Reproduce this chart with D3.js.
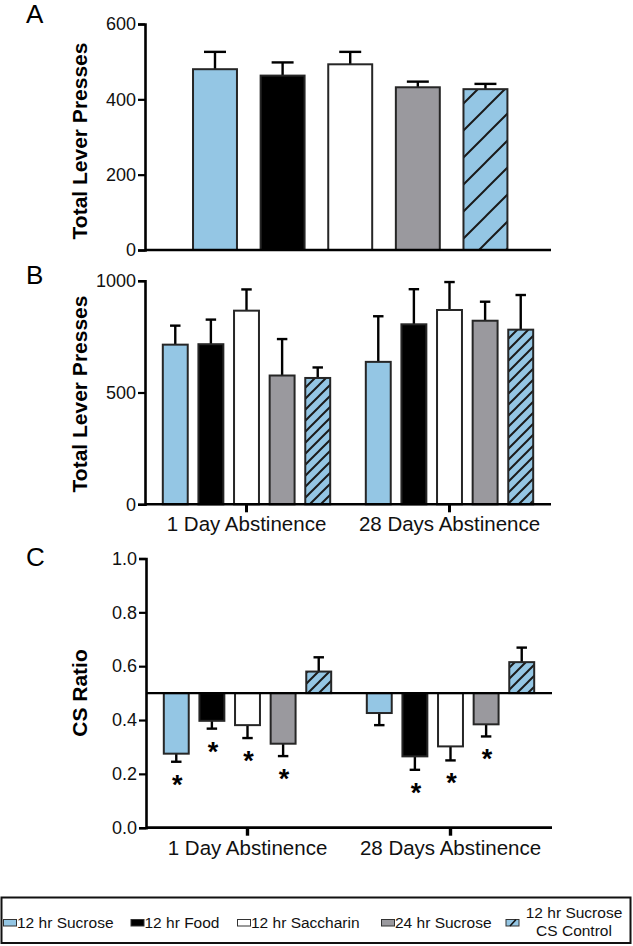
<!DOCTYPE html>
<html>
<head>
<meta charset="utf-8">
<script src="https://cdn.jsdelivr.net/npm/d3@7"></script>
<style>
  html, body { margin: 0; padding: 0; background: #fff; }
  svg { display: block; font-family: "Liberation Sans", Arial, Helvetica, sans-serif; }
</style>
</head>
<body>
<svg id="chart" width="633" height="946"></svg>
<script>
// ---------------- DATA ----------------
const groups = ["12 hr Sucrose", "12 hr Food", "12 hr Saccharin", "24 hr Sucrose", "12 hr Sucrose CS Control"];
const periods = ["1 Day Abstinence", "28 Days Abstinence"];

// Panel A: total lever presses (mean, SEM)
const aMean = [480, 463, 493, 432, 427];
const aSem  = [46, 35, 33, 15, 14];
const aTicks = [0, 200, 400, 600];

// Panel B: total lever presses by abstinence period
const bMean1  = [714, 716, 866, 576, 565];
const bSem1   = [85, 110, 95, 163, 47];
const bMean28 = [637, 805, 869, 821, 781];
const bSem28  = [204, 157, 125, 85, 155];
const bTicks = [0, 500, 1000];

// Panel C: CS ratio
const cMean1  = [0.275, 0.397, 0.381, 0.312, 0.580];
const cSem1   = [0.030, 0.029, 0.048, 0.046, 0.053];
const cMean28 = [0.426, 0.265, 0.302, 0.384, 0.615];
const cSem28  = [0.045, 0.050, 0.052, 0.045, 0.054];
const cSig1   = [true, true, true, true, false];
const cSig28  = [false, true, true, true, false];
const cTicks = [0, 0.2, 0.4, 0.6, 0.8, 1.0];
const cBaseline = 0.5;

const legendLabels = ["12 hr Sucrose", "12 hr Food", "12 hr Saccharin", "24 hr Sucrose", ["12 hr Sucrose", "CS Control"]];

// ---------------- STYLE ----------------
const BLUE = "#94c6e4", GRAY = "#9a999e", STROKE = "#262626";
const fills = [BLUE, "#000000", "#ffffff", GRAY, null]; // null = hatched
const svg = d3.select("#chart");
const defs = svg.append("defs");

function hatch(id, s) {
  const p = defs.append("pattern").attr("id", id).attr("patternUnits", "userSpaceOnUse")
    .attr("width", s).attr("height", s);
  p.append("rect").attr("width", s).attr("height", s).attr("fill", BLUE);
  p.append("path").attr("d", `M${-s/2},${s/2} L${s/2},${-s/2} M0,${s} L${s},0 M${s/2},${s*1.5} L${s*1.5},${s/2}`)
    .attr("stroke", "#1a1a1a").attr("stroke-width", 2);
}
hatch("hatchA", 27);
hatch("hatchB", 11);

const fillFor = (i, hid) => fills[i] === null ? `url(#${hid})` : fills[i];

const X0 = 145, X1 = 551;
const FONT = "'Liberation Sans', Arial, sans-serif";

function yAxis(g, y, ticks, fmt) {
  const ax = d3.axisLeft(y).tickValues(ticks).tickSize(7).tickPadding(2).tickFormat(fmt);
  g.call(ax);
  g.select(".domain").attr("stroke", "#000").attr("stroke-width", 2.6);
  g.selectAll(".tick line").attr("stroke", "#000").attr("stroke-width", 2.2);
  g.selectAll(".tick text").attr("font-size", 18).attr("fill", "#111").attr("font-family", FONT);
}

function yTitle(text, cy) {
  svg.append("text").attr("transform", `translate(87,${cy}) rotate(-90)`)
    .attr("text-anchor", "middle").attr("font-size", 21).attr("font-weight", "bold").text(text);
}

function panelLabel(t, x, y) {
  svg.append("text").attr("x", x).attr("y", y).attr("font-size", 26).text(t);
}

function errBar(g, cx, yFrom, yTo, cap) {
  g.append("line").attr("x1", cx).attr("x2", cx).attr("y1", yFrom).attr("y2", yTo)
    .attr("stroke", "#000").attr("stroke-width", 2.4);
  g.append("line").attr("x1", cx - cap/2).attr("x2", cx + cap/2).attr("y1", yTo).attr("y2", yTo)
    .attr("stroke", "#000").attr("stroke-width", 2.4);
}

// ---------------- PANEL A ----------------
{
  const y = d3.scaleLinear().domain([0, 600]).range([250, 24]);
  const x = d3.scaleBand().domain(groups).range([X0, X1 - 1]).paddingInner(0.35).paddingOuter(0.67).align(0.53);
  const g = svg.append("g");
  groups.forEach((grp, i) => {
    const bx = x(grp), bw = x.bandwidth(), cx = bx + bw/2;
    errBar(g, cx, y(aMean[i]), y(aMean[i] + aSem[i]), bw * 0.5);
    g.append("rect").attr("x", bx).attr("y", y(aMean[i])).attr("width", bw)
      .attr("height", y(0) - y(aMean[i])).attr("fill", fillFor(i, "hatchA"))
      .attr("stroke", STROKE).attr("stroke-width", 2);
  });
  const ya = svg.append("g").attr("transform", `translate(${X0},0)`);
  yAxis(ya, y, aTicks, d3.format("d"));
  svg.append("line").attr("x1", X0).attr("x2", X1).attr("y1", y(0)).attr("y2", y(0))
    .attr("stroke", "#000").attr("stroke-width", 2.6);
  yTitle("Total Lever Presses", 141);
  panelLabel("A", 26, 23);
}

// ---------------- PANEL B ----------------
{
  const y = d3.scaleLinear().domain([0, 1000]).range([504.3, 280.7]);
  const x0 = d3.scaleBand().domain(periods).range([X0, X1]).padding(0);
  const x1 = d3.scaleBand().domain(d3.range(groups.length)).range([0, x0.bandwidth()]).paddingInner(0.3).paddingOuter(0.5);
  const series = [[bMean1, bSem1], [bMean28, bSem28]];
  const g = svg.append("g");
  periods.forEach((p, pi) => {
    const [m, s] = series[pi];
    groups.forEach((grp, i) => {
      const bx = x0(p) + x1(i), bw = x1.bandwidth(), cx = bx + bw/2;
      errBar(g, cx, y(m[i]), y(m[i] + s[i]), bw * 0.42);
      g.append("rect").attr("x", bx).attr("y", y(m[i])).attr("width", bw)
        .attr("height", y(0) - y(m[i])).attr("fill", fillFor(i, "hatchB"))
        .attr("stroke", STROKE).attr("stroke-width", 2);
    });
  });
  const ya = svg.append("g").attr("transform", `translate(${X0},0)`);
  yAxis(ya, y, bTicks, d3.format("d"));
  const xa = svg.append("g").attr("transform", `translate(0,${y(0)})`)
    .call(d3.axisBottom(x0).tickSize(8).tickPadding(4));
  xa.select(".domain").attr("stroke", "#000").attr("stroke-width", 2.6).attr("d", `M${X0},0H${X1}`);
  xa.selectAll(".tick line").attr("stroke", "#000").attr("stroke-width", 3);
  xa.selectAll(".tick text").attr("font-size", 20.5).attr("fill", "#111").attr("font-family", FONT);
  yTitle("Total Lever Presses", 394);
  panelLabel("B", 26, 284);
}

// ---------------- PANEL C ----------------
{
  const y = d3.scaleLinear().domain([0, 1]).range([827.7, 558.5]);
  const x0 = d3.scaleBand().domain(periods).range([X0 + 1, X1 + 1]).padding(0);
  const x1 = d3.scaleBand().domain(d3.range(groups.length)).range([0, x0.bandwidth()]).paddingInner(0.3).paddingOuter(0.5);
  const series = [[cMean1, cSem1, cSig1], [cMean28, cSem28, cSig28]];
  const g = svg.append("g");
  periods.forEach((p, pi) => {
    const [m, s, sig] = series[pi];
    groups.forEach((grp, i) => {
      const bx = x0(p) + x1(i), bw = x1.bandwidth(), cx = bx + bw/2;
      const up = m[i] >= cBaseline;
      const errEnd = up ? m[i] + s[i] : m[i] - s[i];
      errBar(g, cx, y(m[i]), y(errEnd), bw * 0.42);
      g.append("rect").attr("x", bx).attr("y", Math.min(y(m[i]), y(cBaseline))).attr("width", bw)
        .attr("height", Math.abs(y(cBaseline) - y(m[i]))).attr("fill", fillFor(i, "hatchB"))
        .attr("stroke", STROKE).attr("stroke-width", 2);
      if (sig[i]) {
        g.append("text").attr("x", cx + 1).attr("y", y(errEnd) + 17 + 15)
          .attr("text-anchor", "middle").attr("font-size", 27).attr("font-weight", "bold").text("*");
      }
    });
  });
  svg.append("line").attr("x1", X0 + 1).attr("x2", X1 + 1).attr("y1", y(cBaseline)).attr("y2", y(cBaseline))
    .attr("stroke", "#000").attr("stroke-width", 2.2);
  const ya = svg.append("g").attr("transform", `translate(${X0 + 1},0)`);
  yAxis(ya, y, cTicks, d3.format(".1f"));
  const xa = svg.append("g").attr("transform", `translate(0,${y(0)})`)
    .call(d3.axisBottom(x0).tickSize(8).tickPadding(5));
  xa.select(".domain").attr("stroke", "#000").attr("stroke-width", 2.8).attr("d", `M${X0 + 1},0H${X1 + 1}`);
  xa.selectAll(".tick line").attr("stroke", "#000").attr("stroke-width", 3.4);
  xa.selectAll(".tick text").attr("font-size", 20.5).attr("fill", "#111").attr("font-family", FONT);
  yTitle("CS Ratio", 693);
  panelLabel("C", 26, 566);
}

// ---------------- LEGEND ----------------
{
  const lg = svg.append("g");
  lg.append("rect").attr("x", 1.5).attr("y", 897.5).attr("width", 629).attr("height", 45.5)
    .attr("fill", "#fff").attr("stroke", "#111").attr("stroke-width", 2);
  const swX = [3.5, 131, 237.5, 381.5, 506];
  legendLabels.forEach((lab, i) => {
    const sx = swX[i];
    lg.append("rect").attr("x", sx).attr("y", 919.5).attr("width", 13).attr("height", 6.5)
      .attr("fill", fills[i] === null ? BLUE : fills[i]).attr("stroke", "#333").attr("stroke-width", 1);
    if (fills[i] === null) {
      lg.append("line").attr("x1", sx + 4).attr("y1", 926).attr("x2", sx + 10).attr("y2", 919.5)
        .attr("stroke", "#111").attr("stroke-width", 1.6);
    }
    if (Array.isArray(lab)) {
      lab.forEach((t, k) => {
        lg.append("text").attr("x", 574).attr("y", 917.5 + k * 18.5).attr("text-anchor", "middle")
          .attr("font-size", 15.5).attr("fill", "#111").text(t);
      });
    } else {
      lg.append("text").attr("x", sx + 13.5).attr("y", 927.5).attr("font-size", 15.5).attr("fill", "#111").text(lab);
    }
  });
}
</script>
</body>
</html>
